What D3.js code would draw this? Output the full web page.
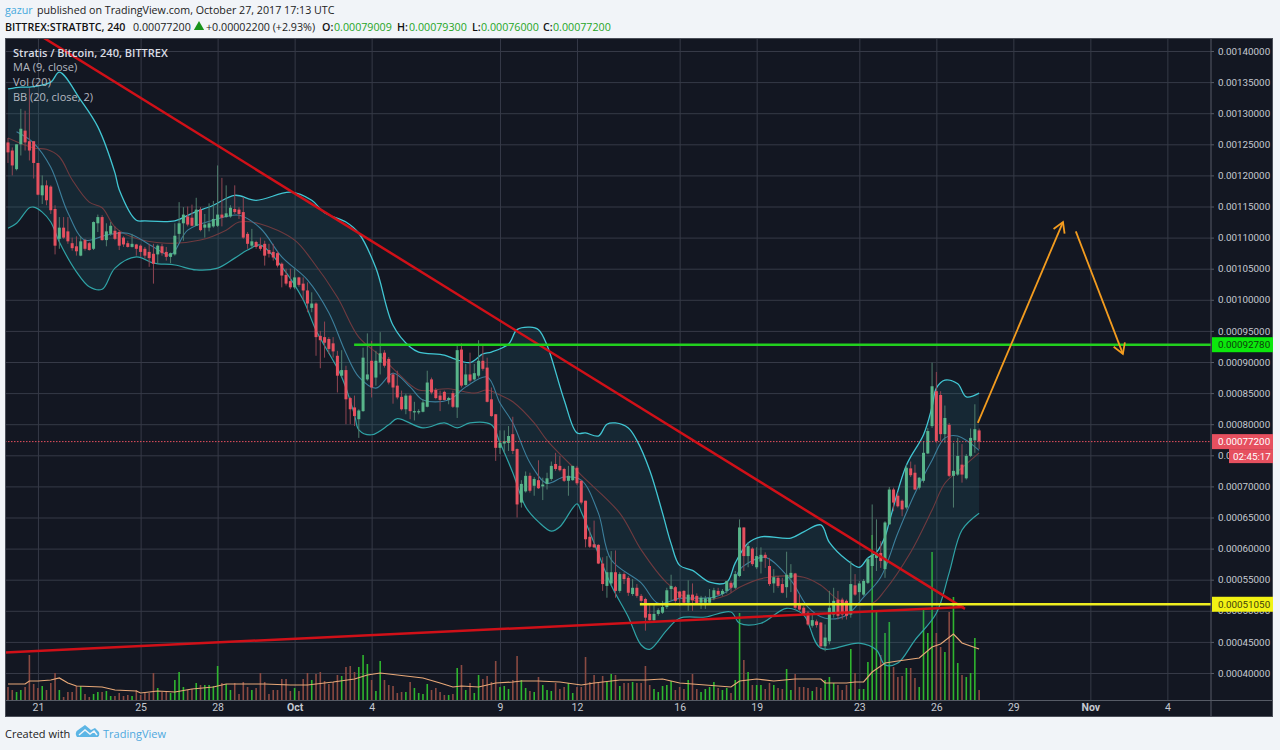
<!DOCTYPE html>
<html>
<head>
<meta charset="utf-8">
<script src="https://cdnjs.cloudflare.com/ajax/libs/d3/7.8.5/d3.min.js"></script>
<style>
  body { margin: 0; background: #f1f4f8; }
  svg { display: block; }
  text { font-family: "Open Sans", sans-serif; }
</style>
</head>
<body>
<svg id="chart" width="1280" height="750"></svg>
<script>
// prices are in units of 0.00001 BTC, one entry per 4h bar
var opens = [
  125.3,124,121,125,127.2,125.5,125.5,122,116.8,118.4,
  118.2,114.6,109.8,111.6,111,109.1,108.6,107.1,109.6,109.1,
  108.2,112.3,113.3,109.6,110.6,111.1,110.9,110,109.1,108.5,
  108.9,108.7,108.2,107.7,107.4,107.3,108.6,107.7,106.9,107.3,
  110.6,112.3,113.4,113.2,111.9,114.5,111.6,111.6,111.8,111.9,
  113.7,113.3,113.4,114.6,114.5,114.1,110.6,108.7,109.3,108.7,
  109,108,107.7,107.5,105.8,104,103,102,103.6,102.6,
  101.5,98.7,99.4,94.2,94,93.7,93,91,87.8,88.7,
  84.2,82.7,80.8,82.1,87.2,90.2,87.5,89.9,91.5,90.5,
  88,86.2,84.4,82.4,84.6,81.9,81.9,82,82.8,87.2,
  85.5,84.6,85.2,83.9,85,82.7,92,86.3,88,87.2,
  87.8,90.2,89.1,84,81.6,76.2,76.9,77,78.4,76,
  67.4,69.2,71.7,70.1,71,70,70.4,71.2,73.6,73.3,
  72.8,70.9,71,73,70.9,67.7,61.9,60.7,60.6,57.6,
  54,54.4,56.2,53.2,55.9,55.3,52.7,53.7,52.4,51.9,
  49.5,48.5,49.5,49.7,50.6,53.5,53.8,53.1,53.2,51.3,
  52.6,52.4,51.3,51.3,51.3,52,53.2,52.7,53.2,54.5,
  53.7,55.6,63.4,58.8,60,57,57.9,59,57.2,54.4,
  55.3,54.3,53.8,55.3,56,51,50.5,49.7,47.6,48.3,
  48.1,44.3,45.1,49.4,51.8,51.8,51.6,49.4,54.1,53,
  52.6,54.5,57.2,58.5,59.3,56.7,63.9,69.5,68.5,67.7,
  66.6,72.9,72.2,69.8,70.9,75.3,79.7,85.3,84.7,78.4,
  79.9,71.7,71.9,73.5,71.3,74.9,77.4,79.0
];
var closes = [
  123.7,121.6,125,127.5,125.3,124,122,116.9,118.4,116,
  114.4,108.7,111.6,110,109.4,108.3,107.8,109.4,108.2,108,
  112.5,113.3,109.6,111,111.9,109.8,108.7,108.9,108.5,109,
  108.2,107.7,107.1,106.7,105.8,108.7,107.5,106.9,107.5,110.3,
  112.3,113.7,112.1,111.9,114.5,111.2,112.1,112.3,113,113.7,
  113.2,113.9,114.8,114.1,113.8,110,109,109.4,108.5,108.2,
  107.1,107.4,106.8,105.5,103.9,102.6,102,103.6,102.4,101.5,
  99.4,99.4,94,93.5,93.1,92.1,91.7,87.8,88.7,84,
  82.4,81.3,82.2,90.7,88,85.9,90.2,91.4,89.4,86.7,
  85.9,84.3,82.4,84.6,82.1,82.1,82.1,83.5,86.7,85.1,
  84.2,83.9,83.9,84.2,82.8,91.9,86.2,88,87,88.2,
  90.2,88.9,83.6,81.3,76.2,77,77.3,78.1,75.7,67.1,
  70.4,71.7,69.3,71.2,69.7,70.3,71.3,73.3,72.8,72.6,
  70.9,71.7,73.3,70.5,67.4,61.5,60.3,60.2,57.6,54.3,
  56.2,56.2,53.2,55.9,55.1,52.9,53.7,52.4,51.6,48.9,
  48.5,49.5,50.1,50.6,53.3,54,51.6,52.1,51.3,52.6,
  51.7,51.2,52.1,52,52.1,53.3,52.6,53.2,54.8,53.7,
  55.9,63.4,58.8,60.4,57.5,58.8,59,58.5,54.3,55.4,
  54,52.9,55.8,56.1,50.5,50.2,49.4,47.8,48.5,47.7,
  44.3,45.7,50.5,51.6,49.2,49.4,49.2,54.3,52.6,54.4,
  54.8,58.3,59,59.3,58,64.2,69.5,67.4,66.8,66.3,
  73,71.8,69.5,71.4,75.4,78.9,86.1,77.3,78.4,81,
  71.7,72.5,74.9,71.9,74.9,77.8,79.2,77.2
];
var highs = [
  126,124.5,125,130.7,130.4,134,125.5,122,120,119.2,
  118.4,115.2,113.3,113.3,113.3,110,110.2,110.2,109.8,109.3,
  112.6,113.7,113.6,112.3,112.5,111.8,111.2,110.2,109.5,110.6,
  109,108.9,108.5,109,109,108.9,109,108.5,107.6,112.3,
  115.7,114.9,115,115.3,116.4,114.9,113.8,115.5,115.9,121.6,
  119.6,118.4,115.2,118.4,114.9,116.5,110.9,111.4,109.5,110,
  109.5,109,109,107.8,106,105,105,105,103.7,103.6,
  102.8,101.2,99.6,95,96.5,94,94,91.8,91.9,89.4,
  84.4,84.6,82.4,92.3,94.6,93.4,91.8,94.8,91.9,90.8,
  88.3,88.6,85.4,84.9,84.8,83.6,82.4,84,88.6,87.5,
  85.8,85.4,85.4,84.4,85.4,92.9,93,89.7,91.5,89.7,
  93.5,92.9,90.7,85.9,81.6,79,79,79.7,81.2,76.1,
  71,72.4,72.2,71.5,74.2,71.4,72.2,74,75.4,74.9,
  73,73.3,73.3,73.3,71,67.7,63.4,64.5,60.7,58.6,
  58.8,59.6,59.7,56.2,56.2,55.6,55.1,54.3,52.7,52.1,
  51,51,50.4,51.6,53.7,55.8,54,53.2,53.3,54.9,
  54.4,52.8,52.4,52.4,53.5,53.7,53.7,53.5,54.8,54.8,
  56.4,64.7,63.4,61,60.2,60.2,60.2,59.4,58.5,56.7,
  55.6,55.3,59.5,57.5,56.1,52.6,50.8,50,49.4,48.6,
  48.2,47.8,53.2,53.7,53.2,52.1,51.8,58,55.9,54.8,
  55.1,58.5,67.1,64.7,61.2,64.4,69.9,69.8,69,67.9,
  73.5,74,73.5,71.5,77.3,79.4,89.9,88.4,85.3,83,
  80.2,77,77.8,76.8,75.2,79.3,83.2,79.3
];
var lows = [
  122,120,120.8,123.2,124,122.4,119.5,116.8,115.4,115.2,
  113.8,107.3,108.2,109.8,109,107.9,107.1,107,107.9,107.9,
  108,110.9,109.5,108.6,110.3,109.6,108,108.5,108.4,108.4,
  107.1,106.9,106.6,105.3,102.6,105.8,107.1,106.3,105.9,107.1,
  109.3,109.5,111.8,111.8,111.9,111,110,111,111.6,111.7,
  111.8,113.2,113.2,113.8,113,109.8,108.2,108.2,108.2,107.9,
  105.5,106.8,106.3,105.2,102,102.3,101.7,101.7,102.1,100,
  98,98,91,89,90.7,91.3,90.7,85.1,87.5,80,
  80,79.7,77.8,82,87,84.3,86.2,88,89.1,86.4,
  83.3,84,82.2,81.6,80.8,80.6,81.6,81.9,82.7,84.8,
  84,82.1,83.8,83.2,82.6,81,85.9,86.2,86.7,87,
  87.5,88.6,83.5,81.2,74.1,75.2,75.4,75.7,75.2,65,
  66.6,69,69,68.5,69.6,67.8,69.5,70.9,72.5,72.4,
  70.7,68.5,70.9,70.2,67.1,60.2,60.1,60.1,57.5,53.2,
  52.1,54,52.1,52.9,54.3,52.4,52.4,52.1,51.3,46.8,
  48.4,48.3,49.2,49.5,50.3,51.6,51.3,50.8,51,50,
  50,51,50.3,50.3,51,51.7,52.4,52.4,52.8,52.9,
  53.5,55.4,56.4,57,57.2,56.7,56,56.9,54,52.9,
  53.7,52.8,52.1,53,50.2,50,49.2,47.6,47.3,47.3,
  44,43.5,44.6,48.9,48.6,48.6,48.6,48.9,52.4,51.6,
  52.4,54.3,55.3,56.4,56.9,55.3,63.8,66,66.6,65.2,
  66.3,71.5,69.4,69.5,70.6,75.2,79.4,77,77.3,77,
  71.5,66.6,71.7,70.6,71.1,74.7,75.4,76
];
var volumes = [
  13,10,8,10,13,45,16,12,14,10,
  17,27,10,3,8,8,14,14,6,3,
  6,8,8,9,4,4,7,4,5,4,
  10,5,7,7,27,12,8,8,7,20,
  28,13,10,11,17,15,15,15,14,34,
  17,16,10,17,6,18,13,10,12,27,
  18,6,10,10,21,21,9,12,9,21,
  27,20,26,28,19,16,18,25,24,33,
  34,28,33,45,36,20,9,39,20,15,
  14,7,8,8,18,12,7,6,16,10,
  12,8,5,5,6,32,35,10,17,7,
  25,21,24,18,39,13,14,11,20,44,
  20,12,9,8,23,15,10,9,17,11,
  13,17,7,13,13,43,18,25,18,24,
  18,26,25,14,17,17,18,17,17,34,
  15,11,8,14,15,19,10,13,11,20,
  26,11,8,11,13,18,12,10,12,7,
  20,87,40,28,15,15,15,11,17,15,
  12,11,31,10,26,13,13,12,9,13,
  12,20,23,17,15,10,15,51,27,11,
  11,38,165,90,45,67,78,33,23,24,
  32,32,22,13,90,67,148,67,53,48,
  88,103,37,25,23,27,62,10
];

// indicator readings as [bar, value]
var bbUpper = [[0,133.9],[3,134.2],[5,134.2],[10,135],[12,136.6],[17,132.1],[21,127.8],[25,120.4],[26,117.7],[30,112.8],[32,112.7],[39,112.7],[43,113.9],[48,115.2],[53,116.8],[58,116],[66,117.3],[71,116],[74,114],[79,112.5],[82,110.7],[86,105.1],[90,95.9],[94,92.4],[96,91.6],[102,91.1],[104,90.6],[108,89.9],[111,91.3],[113,91.6],[117,92.9],[119,95.2],[122,95.6],[124,95.2],[126,92.7],[130,83.9],[133,78.6],[135,78.6],[138,78.1],[140,80],[142,80.2],[145,79.4],[147,77.4],[150,72.6],[153,65.7],[155,60.8],[157,57.3],[160,56.5],[164,54.6],[168,54.6],[170,57.7],[173,60.9],[176,61.9],[183,61.7],[186,62.7],[190,63.8],[192,61],[196,58.2],[199,57],[201,58.5],[203,59.4],[205,61.9],[206,64.3],[210,73.4],[214,78.3],[216,82.8],[217,85.8],[219,87.1],[222,86.5],[224,84.4],[227,85]];
var bbLower = [[0,111.5],[2,112.3],[5,114.8],[6,114.9],[8,114.1],[10,112.5],[12,109.3],[16,104.5],[19,102.1],[22,101.7],[25,105.1],[30,106.9],[34,105.9],[39,105.6],[44,104.8],[49,105.1],[53,106.7],[56,108],[59,108.8],[64,105.3],[69,100],[72,95.1],[78,87.6],[81,81.5],[82,79.1],[85,78.3],[89,79.9],[91,80.9],[97,79.4],[102,80.2],[105,79.4],[108,80.2],[113,79.9],[115,77],[118,72.2],[121,66.7],[124,64.3],[127,62.8],[129,63.5],[133,67.2],[134,65.9],[137,60.9],[141,54.1],[145,49],[148,44.5],[150,43.8],[154,46.9],[157,48.8],[163,49],[169,49.8],[171,48],[176,48],[182,50.4],[186,49.3],[190,44],[199,44.8],[203,43.7],[205,41.3],[208,41.6],[212,45.3],[217,49.6],[220,56.1],[223,63],[227,65.7]];
var bbBasis = [[0,126],[6,124.4],[9,124.2],[12,123],[15,119.3],[19,115.7],[22,114.8],[25,111.7],[29,110.1],[37,109.1],[45,109.6],[51,111.2],[54,112.5],[59,112.2],[67,109.6],[71,106.4],[77,100.4],[82,94],[87,91],[91,88.3],[96,85.5],[103,85.7],[109,85],[112,85.5],[115,84.7],[118,83.6],[123,80.2],[126,77.4],[134,71.8],[143,65.7],[148,59.8],[154,54.5],[160,51.7],[168,52.5],[171,53.8],[177,55.3],[186,55.4],[190,54.1],[195,51.4],[202,51.2],[205,53.3],[211,59.4],[216,66.2],[219,70.5],[223,73],[227,75.4]];
var ma9 = [[2,127],[6,125.2],[10,121.3],[14,114],[18,109.6],[23,110.4],[28,110.7],[34,108.5],[38,107.2],[42,111.2],[48,112.8],[54,113.6],[59,111.5],[64,106.9],[70,103.2],[75,97.9],[79,91.4],[82,87.6],[86,85.8],[90,88.2],[94,86],[97,83.9],[103,83.9],[107,86],[112,87.6],[115,83.4],[118,80.2],[122,73.8],[126,70.5],[130,71.5],[134,71],[138,65.7],[141,58.2],[148,54.5],[152,51.2],[157,52],[165,52.2],[169,53.7],[171,56.6],[173,57.7],[177,58.6],[183,54.9],[187,50.6],[191,48.8],[196,49.3],[200,52.2],[204,55.4],[208,62.5],[212,68.9],[216,74.2],[219,77.8],[222,78.1],[227,75.8]];
var volMa = [[0,16],[4,16],[5,19],[7,19],[10,20],[12,22],[14,17],[16,14],[22,13],[25,10],[30,9],[31,7],[33,8],[35,9],[39,8],[43,11],[48,13],[51,16],[54,16],[60,16],[66,15],[70,15],[76,18],[81,21],[84,25],[87,27],[91,25],[97,22],[101,17],[104,13],[106,14],[110,13],[114,17],[118,18],[120,19],[124,19],[129,18],[134,15],[137,17],[143,20],[149,20],[153,21],[157,17],[163,15],[169,13],[171,19],[175,21],[179,19],[184,21],[190,21],[191,17],[196,17],[198,18],[200,18],[202,28],[205,37],[208,39],[213,42],[216,53],[218,56],[221,66],[223,57],[227,51]];

// hand drawn trend lines, [bar, price]
var fallingLine = [[8.4,142.1],[223.7,50.3]];
var risingLine = [[-0.7,43.3],[223.4,50.6]];
var upArrow = [[226.7,80.2],[246.6,112.5]];
var downArrow = [[249.6,111],[260.6,91.3]];
var resistanceStart = 80.9, resistance = 92.78;
var supportStart = 147.7, support = 51.05;
var lastPrice = 77.2;

var priceTicks = d3.range(40, 141, 5);
var dayBars = [7,31,49,67,85,115,133,157,175,199,217,235,253,271];
var dayLabels = ["21","25","28","Oct","4","9","12","16","19","23","26","29","Nov","4"];

var plotLeft = 5, plotRight = 1211, plotTop = 38, plotBottom = 700, axisBottom = 717, axisRight = 1273;

var x = d3.scaleLinear().domain([-0.7, 281.2]).range([plotLeft, plotRight]);
var y = d3.scaleLinear().domain([140, 40]).range([51, 673]);
// volume pane shares the bottom of the plot
var v = d3.scaleLinear().domain([0, 100]).range([plotBottom, plotBottom - 100]);

var svg = d3.select("#chart");
var priceFormat = function(d) { return (d / 100000).toFixed(8); };
var axisFont = "Roboto, sans-serif";

svg.append("defs").append("clipPath").attr("id", "plot-clip").append("rect")
    .attr("x", plotLeft).attr("y", plotTop)
    .attr("width", plotRight - plotLeft).attr("height", plotBottom - plotTop);

var marker = svg.select("defs").append("marker")
    .attr("id", "arrow-head").attr("viewBox", "-12 -8 14 16")
    .attr("refX", 0).attr("refY", 0)
    .attr("markerWidth", 14).attr("markerHeight", 16)
    .attr("markerUnits", "userSpaceOnUse").attr("orient", "auto");
marker.append("path").attr("d", "M-10,-6L0,0L-10,6")
    .attr("fill", "none").attr("stroke", "#f39c1f").attr("stroke-width", 1.8);

// background
svg.append("rect").attr("x", plotLeft).attr("y", plotTop)
    .attr("width", axisRight - plotLeft).attr("height", axisBottom - plotTop)
    .attr("fill", "#131722");

// grid
var gridY = svg.append("g").attr("transform", "translate(" + plotLeft + ",0)")
    .call(d3.axisRight(y).tickValues(priceTicks).tickSize(plotRight - plotLeft).tickFormat(""));
var gridX = svg.append("g").attr("transform", "translate(0," + plotBottom + ")")
    .call(d3.axisBottom(x).tickValues(dayBars).tickSize(plotTop - plotBottom).tickFormat(""));
[gridY, gridX].forEach(function(g) {
    g.select(".domain").remove();
    g.selectAll("line").attr("stroke", "#363a47").attr("stroke-width", 1);
});

var plot = svg.append("g").attr("clip-path", "url(#plot-clip)");

var isUp = function(i) { return closes[i] >= opens[i]; };
var bars = d3.range(closes.length);

// volume
plot.selectAll(".vol").data(bars).enter().append("line")
    .attr("class", "vol")
    .attr("x1", function(i) { return x(i); })
    .attr("x2", function(i) { return x(i); })
    .attr("y1", plotBottom)
    .attr("y2", function(i) { return v(volumes[i]); })
    .attr("stroke", function(i) { return isUp(i) ? "#2fb52f" : "#8a4a42"; })
    .attr("stroke-width", 1.6);

var line = d3.line()
    .x(function(d) { return x(d[0]); })
    .y(function(d) { return y(d[1]); });
var smooth = d3.line()
    .x(function(d) { return x(d[0]); })
    .y(function(d) { return y(d[1]); })
    .curve(d3.curveCatmullRom.alpha(0.5));
var volLine = d3.line()
    .x(function(d) { return x(d[0]); })
    .y(function(d) { return v(d[1]); });

// bollinger band
plot.append("path")
    .attr("d", smooth(bbUpper) + "L" + smooth(bbLower.slice().reverse()).slice(1) + "Z")
    .attr("fill", "#22707f").attr("fill-opacity", 0.2);
plot.append("path").attr("d", smooth(bbBasis)).attr("fill", "none")
    .attr("stroke", "#6f3a3f").attr("stroke-width", 1.1);
plot.append("path").attr("d", smooth(bbUpper)).attr("fill", "none")
    .attr("stroke", "#41c6d3").attr("stroke-width", 1.3);
plot.append("path").attr("d", smooth(bbLower)).attr("fill", "none")
    .attr("stroke", "#2fa3a6").attr("stroke-width", 1.2);
plot.append("path").attr("d", smooth(ma9)).attr("fill", "none")
    .attr("stroke", "#3c7f9c").attr("stroke-width", 1.1);

// candles
plot.selectAll(".wick").data(bars).enter().append("line")
    .attr("class", "wick")
    .attr("x1", function(i) { return x(i); })
    .attr("x2", function(i) { return x(i); })
    .attr("y1", function(i) { return y(highs[i]); })
    .attr("y2", function(i) { return y(lows[i]); })
    .attr("stroke", function(i) { return isUp(i) ? "#4f7d6d" : "#8f4552"; })
    .attr("stroke-width", 1);
plot.selectAll(".body").data(bars).enter().append("rect")
    .attr("class", "body")
    .attr("x", function(i) { return x(i) - 1.5; })
    .attr("width", 3)
    .attr("y", function(i) { return y(Math.max(opens[i], closes[i])); })
    .attr("height", function(i) { return Math.max(1, Math.abs(y(opens[i]) - y(closes[i]))); })
    .attr("fill", function(i) { return isUp(i) ? "#58b58a" : "#e6505f"; });

plot.append("path").attr("d", volLine(volMa)).attr("fill", "none")
    .attr("stroke", "#e8a878").attr("stroke-width", 1.2);

// last price
plot.append("line").attr("x1", plotLeft).attr("x2", plotRight)
    .attr("y1", y(lastPrice)).attr("y2", y(lastPrice))
    .attr("stroke", "#e6505f").attr("stroke-width", 1).attr("stroke-dasharray", "1.5,1.5");

// drawings
plot.append("path").attr("d", line(fallingLine)).attr("fill", "none")
    .attr("stroke", "#d01018").attr("stroke-width", 2.5);
plot.append("path").attr("d", line(risingLine)).attr("fill", "none")
    .attr("stroke", "#d01018").attr("stroke-width", 2.5);
plot.append("line")
    .attr("x1", x(resistanceStart)).attr("x2", plotRight)
    .attr("y1", y(resistance)).attr("y2", y(resistance))
    .attr("stroke", "#22d01e").attr("stroke-width", 2.4);
plot.append("line")
    .attr("x1", x(supportStart)).attr("x2", plotRight)
    .attr("y1", y(support)).attr("y2", y(support))
    .attr("stroke", "#eeee20").attr("stroke-width", 2.4);
[upArrow, downArrow].forEach(function(a) {
    plot.append("path").attr("d", line(a)).attr("fill", "none")
        .attr("stroke", "#f39c1f").attr("stroke-width", 1.8)
        .attr("marker-end", "url(#arrow-head)");
});

// axes
var rightAxis = svg.append("g").attr("transform", "translate(" + plotRight + ",0)")
    .call(d3.axisRight(y).tickValues(priceTicks).tickSize(3).tickPadding(4).tickFormat(priceFormat));
rightAxis.select(".domain").remove();
rightAxis.selectAll("line").attr("stroke", "#565b66");
rightAxis.selectAll("text").attr("fill", "#c5c9d1").style("font-size", "9.8px")
    .style("font-family", axisFont);

var timeAxis = svg.append("g").attr("transform", "translate(0," + plotBottom + ")")
    .call(d3.axisBottom(x).tickValues(dayBars).tickSize(0).tickPadding(4)
        .tickFormat(function(d, i) { return dayLabels[i]; }));
timeAxis.select(".domain").remove();
timeAxis.selectAll("text").attr("fill", "#c5c9d1").style("font-size", "10.5px")
    .style("font-family", axisFont)
    .style("font-weight", function(d, i) { return isNaN(+dayLabels[i]) ? 700 : 400; });

svg.append("line").attr("x1", plotRight).attr("x2", plotRight)
    .attr("y1", plotTop).attr("y2", axisBottom).attr("stroke", "#565b66");
svg.append("line").attr("x1", plotLeft).attr("x2", axisRight)
    .attr("y1", plotBottom + 0.5).attr("y2", plotBottom + 0.5).attr("stroke", "#565b66");
svg.append("rect").attr("x", plotLeft + 0.5).attr("y", plotTop + 0.5)
    .attr("width", axisRight - plotLeft - 1).attr("height", axisBottom - plotTop - 1)
    .attr("fill", "none").attr("stroke", "#4a4e58");

// price tags
function priceTag(value, bg, fg) {
    svg.append("rect").attr("x", plotRight + 1).attr("y", y(value) - 7.5)
        .attr("width", axisRight - plotRight - 1).attr("height", 15).attr("fill", bg);
    svg.append("text").attr("x", plotRight + 7).attr("y", y(value) + 3.6)
        .attr("fill", fg).style("font-size", "9.8px").style("font-family", axisFont)
        .text(priceFormat(value));
}
priceTag(resistance, "#0ce80c", "#0c3d0c");
priceTag(support, "#f2f214", "#3d3d0c");
priceTag(lastPrice, "#e6505f", "#ffffff");
svg.append("rect").attr("x", 1229).attr("y", y(lastPrice) + 7.5)
    .attr("width", axisRight - 1229).attr("height", 14).attr("fill", "#e6505f");
svg.append("text").attr("x", 1233).attr("y", y(lastPrice) + 18.2)
    .attr("fill", "#ffffff").style("font-size", "9.8px").style("font-family", axisFont)
    .text("02:45:17");

// chart legend
var legend = [["Stratis / Bitcoin, 240, BITTREX", 53, "#d9dce2", 600],
    ["MA (9, close)", 67, "#b4b8c0", 400],
    ["Vol (20)", 82, "#b4b8c0", 400],
    ["BB (20, close, 2)", 97, "#b4b8c0", 400]];
legend.forEach(function(d) {
    svg.append("text").attr("x", 13).attr("y", d[1] + 4).attr("fill", d[2])
        .style("font-size", "11px").style("font-weight", d[3]).text(d[0]);
});

// page header
function headerText(s, tx, ty, color, weight) {
    svg.append("text").attr("x", tx).attr("y", ty).attr("fill", color || "#222")
        .style("font-size", "10.7px").style("font-weight", weight || 400).text(s);
}
headerText("gazur", 5, 14, "#45a9dc");
headerText("published on TradingView.com, October 27, 2017 17:13 UTC", 37, 14);
var green = "#26a51f";
headerText("BITTREX:STRATBTC, 240", 5, 31, "#111", 600);
headerText("0.00077200", 133, 31);
svg.append("path").attr("d", d3.symbol(d3.symbolTriangle, 46)()).attr("fill", "#17931b")
    .attr("transform", "translate(199,27)");
headerText("+0.00002200 (+2.93%)", 206, 31);
headerText("O:", 322, 31, "#111", 600);
headerText("0.00079009", 334, 31, green);
headerText("H:", 397, 31, "#111", 600);
headerText("0.00079300", 409, 31, green);
headerText("L:", 472, 31, "#111", 600);
headerText("0.00076000", 481, 31, green);
headerText("C:", 543, 31, "#111", 600);
headerText("0.00077200", 553, 31, green);

// footer
svg.append("text").attr("x", 5).attr("y", 738).attr("fill", "#222")
    .style("font-size", "11px").text("Created with");
svg.append("path")
    .attr("d", "M77,737a4.5,4.5 0 0 1 1,-7l7,-5l6,5l4,-2l3,3a4,4 0 0 1 0,6z")
    .attr("fill", "#5cb5e5");
svg.append("path")
    .attr("d", "M79,735l6,-5l5,4l4,-3l3,4")
    .attr("fill", "none").attr("stroke", "#f1f4f8").attr("stroke-width", 1.5);
svg.append("text").attr("x", 103).attr("y", 738).attr("fill", "#4ea8de")
    .style("font-size", "11px").text("TradingView");
</script>
</body>
</html>
